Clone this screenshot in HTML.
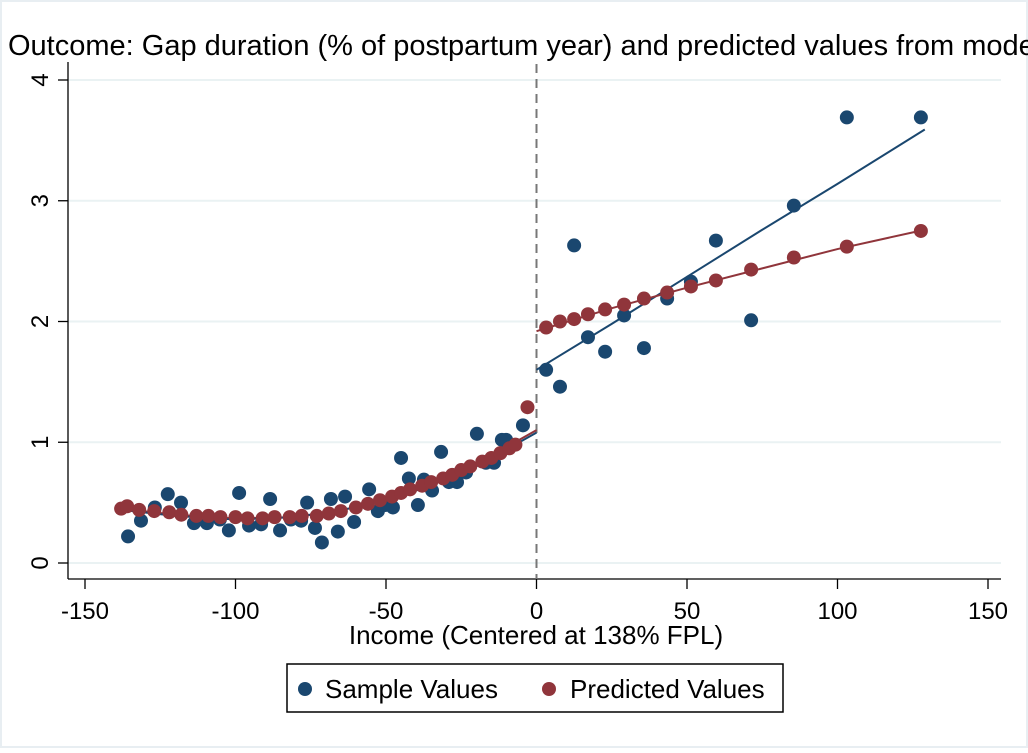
<!DOCTYPE html>
<html><head><meta charset="utf-8"><style>
html,body{margin:0;padding:0;background:#fff;}
svg text{font-family:"Liberation Sans",Arial,sans-serif;}
</style></head><body>
<svg width="1028" height="748" viewBox="0 0 1028 748" xmlns="http://www.w3.org/2000/svg">
<rect x="1" y="1" width="1026" height="746" fill="#fff" stroke="#e8eef2" stroke-width="2"/>
<text x="8" y="55" font-size="29" fill="#000">Outcome: Gap duration (% of postpartum year) and predicted values from model</text>
<g id="grid"></g>
<g id="axes"></g>
<g id="lines"></g>
<g id="pts"></g>
<text x="536" y="644" font-size="26" text-anchor="middle">Income (Centered at 138% FPL)</text>
<g>
<rect x="287" y="664" width="496" height="48" fill="#fff" stroke="#000" stroke-width="1.5"/>
<circle cx="305" cy="689" r="7" fill="#1a476f"/>
<text x="325" y="698" font-size="26">Sample Values</text>
<circle cx="549" cy="689" r="7" fill="#90353b"/>
<text x="570" y="698" font-size="26">Predicted Values</text>
</g>
</svg>
<script>
const sampleX=[-135.7,-131.4,-126.8,-122.5,-118.1,-113.8,-109.5,-105.2,-102.2,-98.8,-95.5,-91.5,-88.5,-85.2,-81.6,-78.2,-76.2,-73.6,-71.3,-68.3,-66.0,-63.6,-60.6,-55.6,-52.7,-50.3,-47.7,-45.0,-42.4,-39.4,-37.4,-34.7,-31.7,-29.1,-26.4,-23.4,-19.8,-16.8,-14.1,-11.5,-10.1,-4.5,3.2,7.8,12.5,17.1,22.8,29.1,35.7,43.4,51.3,59.6,71.3,85.5,103.1,127.7];
const sampleY=[0.22,0.35,0.46,0.57,0.50,0.33,0.33,0.36,0.27,0.58,0.31,0.32,0.53,0.27,0.36,0.35,0.50,0.29,0.17,0.53,0.26,0.55,0.34,0.61,0.43,0.48,0.46,0.87,0.70,0.48,0.69,0.60,0.92,0.67,0.67,0.75,1.07,0.83,0.83,1.02,1.02,1.14,1.60,1.46,2.63,1.87,1.75,2.05,1.78,2.19,2.33,2.67,2.01,2.96,3.69,3.69];
const predX=[-138,-136,-132,-127,-122,-118,-113,-109,-105,-100,-96,-91,-87,-82,-78,-73,-69,-65,-60,-56,-52,-48,-45,-42,-38,-35,-31,-28,-25,-22,-18,-15,-12,-9,-7,-3,3.2,7.8,12.5,17.1,22.8,29.1,35.7,43.4,51.3,59.6,71.3,85.5,103.1,127.7];
const predY=[0.45,0.47,0.44,0.43,0.42,0.40,0.39,0.39,0.38,0.38,0.37,0.37,0.38,0.38,0.39,0.39,0.41,0.43,0.46,0.49,0.52,0.55,0.58,0.61,0.64,0.67,0.70,0.73,0.77,0.80,0.84,0.87,0.91,0.95,0.98,1.29,1.95,2.00,2.02,2.06,2.10,2.14,2.19,2.24,2.29,2.34,2.43,2.53,2.62,2.75];
const fitLeftX=[-138,-120,-100,-80,-60,-40,-20,0];
const fitSampleLeftY=[0.44,0.39,0.36,0.38,0.46,0.60,0.80,1.08];
const fitPredLeftY=[0.45,0.40,0.37,0.38,0.46,0.61,0.82,1.10];
const fitRightX=[0,25,50,75,100,129];
const fitSampleRightY=[1.60,1.98,2.37,2.76,3.14,3.59];
const fitPredRightY=[1.92,2.11,2.28,2.44,2.60,2.76];
const xTicks=[-150,-100,-50,0,50,100,150];
const yTicks=[0,1,2,3,4];
const NS="http://www.w3.org/2000/svg";
const X=v=>536.5+v*3.01, Y=v=>563-v*120.75;
function mk(t,a,p){const e=document.createElementNS(NS,t);for(const k in a)e.setAttribute(k,a[k]);p.appendChild(e);return e;}
const grid=document.getElementById('grid'),axes=document.getElementById('axes'),lines=document.getElementById('lines'),pts=document.getElementById('pts');
yTicks.forEach(t=>{
 const g=mk('line',{x1:68,x2:1001,y1:Y(t),y2:Y(t),stroke:'#eaf2f3','stroke-width':2},grid);
 
 
 const tk=mk('line',{x1:58,x2:68,y1:Y(t),y2:Y(t),stroke:'#000','stroke-width':1.3},axes);
 
 
 const tx=mk('text',{x:0,y:0,'font-size':24,'text-anchor':'middle',transform:`translate(48,${Y(t)}) rotate(-90)`},axes);
 tx.textContent=t;
 
 
});
xTicks.forEach(t=>{
 const tk=mk('line',{x1:X(t),x2:X(t),y1:579,y2:589,stroke:'#000','stroke-width':1.3},axes);
 
 
 const tx=mk('text',{x:X(t),y:619,'font-size':24,'text-anchor':'middle'},axes);
 tx.textContent=t;
 
 
});
const ya=mk('line',{x1:68,x2:68,y1:62,y2:579,stroke:'#000','stroke-width':1.3},axes);


const xa=mk('line',{x1:68,x2:1001,y1:579,y2:579,stroke:'#000','stroke-width':1.3},axes);


const cut=mk('line',{x1:X(0),x2:X(0),y1:64,y2:579,stroke:'#777','stroke-width':2,'stroke-dasharray':'9,6'},axes);


function poly(xs,ys,col,name){
 const p=mk('polyline',{points:xs.map((v,i)=>X(v)+','+Y(ys[i])).join(' '),fill:'none',stroke:col,'stroke-width':2},lines);
 
 
}
poly(fitLeftX,fitPredLeftY,'#90353b','predicted-fit-left');
poly(fitLeftX,fitSampleLeftY,'#1a476f','sample-fit-left');
poly(fitRightX,fitSampleRightY,'#1a476f','sample-fit-right');
poly(fitRightX,fitPredRightY,'#90353b','predicted-fit-right');
sampleX.forEach((v,i)=>{
 const c=mk('circle',{cx:X(v),cy:Y(sampleY[i]),r:7,fill:'#1a476f'},pts);
 
 
});
predX.forEach((v,i)=>{
 const c=mk('circle',{cx:X(v),cy:Y(predY[i]),r:7,fill:'#90353b'},pts);
 
 
});
</script>
</body></html>
